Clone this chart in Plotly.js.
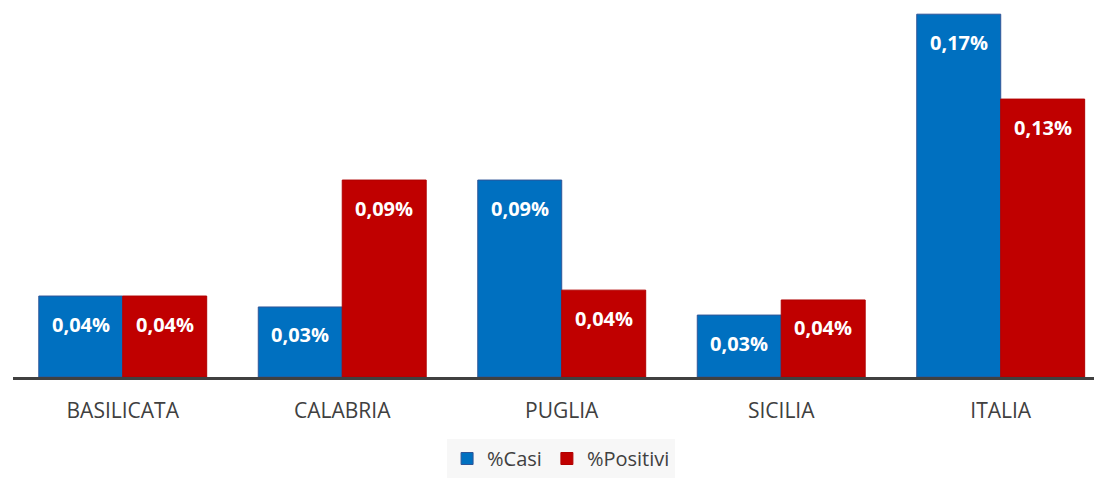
<!DOCTYPE html>
<html><head><meta charset="utf-8">
<script src="https://cdn.plot.ly/plotly-3.0.1.min.js"></script>
<style>html,body{margin:0;padding:0;background:#fff}#chart{width:1094px;height:478px}</style>
</head><body><div id="chart"></div>
<script>
const categories = ["BASILICATA", "CALABRIA", "PUGLIA", "SICILIA", "ITALIA"];
const casi = [0.037, 0.032, 0.090, 0.0283, 0.1658];
const positivi = [0.037, 0.090, 0.0397, 0.0352, 0.127];
const seriesNames = ["%Casi", "%Positivi"];

const fmt = v => v.toFixed(2).replace('.', ',') + '%';
const barW = 0.383;

const traces = [
  {type:'bar', name:seriesNames[0], x:categories.map((c,i)=>i), y:casi,
   marker:{color:'#0070c0', line:{color:'#2f5597', width:1}}, hoverinfo:'none'},
  {type:'bar', name:seriesNames[1], x:categories.map((c,i)=>i), y:positivi,
   marker:{color:'#c00000', line:{color:'#b00000', width:1}}, hoverinfo:'none'}
];

const annotations = [];
[casi, positivi].forEach((arr, s) => {
  arr.forEach((v, i) => {
    annotations.push({x: i + (s === 0 ? -barW/2 : barW/2), y: v, xref:'x', yref:'y',
      text: fmt(v), showarrow:false, yanchor:'middle', yshift:-28,
      font:{family:'Open Sans', size:20, color:'#ffffff', weight:'bold'}});
  });
});

const layout = {
  width:1094, height:478,
  margin:{l:13, r:0, t:5, b:101},
  barmode:'group', bargap:0.235, bargroupgap:0,
  paper_bgcolor:'#fff', plot_bgcolor:'#fff',
  showlegend:true,
  legend:{orientation:'h', x:0.507, xanchor:'center', yref:'container', y:0, yanchor:'bottom',
    bgcolor:'#f7f7f7', font:{family:'Open Sans', size:20, color:'#404040'}, itemclick:false},
  xaxis:{range:[-0.5, 4.425], tickmode:'array', tickvals:categories.map((c,i)=>i), ticktext:categories,
    showline:true, linecolor:'#404040', linewidth:3, ticks:'', showgrid:false, zeroline:false,
    ticklabelstandoff:13, tickfont:{family:'Open Sans', size:21, color:'#404040'}},
  yaxis:{range:[0, 0.17], visible:false, showgrid:false, zeroline:false},
  annotations: annotations
};
Plotly.newPlot('chart', traces, layout, {staticPlot:true, displayModeBar:false});
</script></body></html>
